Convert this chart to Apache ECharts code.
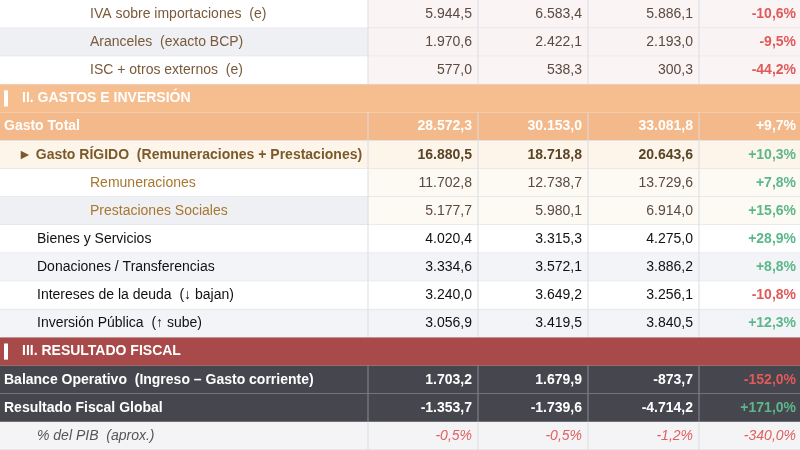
<!DOCTYPE html>
<html><head><meta charset="utf-8">
<script src="https://cdn.jsdelivr.net/npm/echarts@6/dist/echarts.min.js"></script>
<style>html,body{margin:0;padding:0;background:#fff}#c{width:800px;height:450px}</style>
</head><body><div id="c"></div>
<script>
var labels = ['IVA sobre importaciones  (e)','Aranceles  (exacto BCP)','ISC + otros externos  (e)','II. GASTOS E INVERSIÓN','Gasto Total',
  '► Gasto RÍGIDO  (Remuneraciones + Prestaciones)','Remuneraciones','Prestaciones Sociales','Bienes y Servicios','Donaciones / Transferencias',
  'Intereses de la deuda  (↓ bajan)','Inversión Pública  (↑ sube)','III. RESULTADO FISCAL','Balance Operativo  (Ingreso – Gasto corriente)',
  'Resultado Fiscal Global','% del PIB  (aprox.)'];
var kinds = ['sub','subAlt','sub','secII','total','rigid','rsub','rsubAlt','item','itemAlt','item','itemAlt','secIII','dark','dark','pct'];
var col1 = [5944.5,1970.6,577.0,null,28572.3,16880.5,11702.8,5177.7,4020.4,3334.6,3240.0,3056.9,null,1703.2,-1353.7,-0.5];
var col2 = [6583.4,2422.1,538.3,null,30153.0,18718.8,12738.7,5980.1,3315.3,3572.1,3649.2,3419.5,null,1679.9,-1739.6,-0.5];
var col3 = [5886.1,2193.0,300.3,null,33081.8,20643.6,13729.6,6914.0,4275.0,3886.2,3256.1,3840.5,null,-873.7,-4714.2,-1.2];
var change = [-10.6,-9.5,-44.2,null,9.7,10.3,7.8,15.6,28.9,8.8,-10.8,12.3,null,-152.0,171.0,-340.0];

var colEdges = [0,368,478,588,699,800];

function fmt(v){
  var neg = v < 0, s = Math.abs(v).toFixed(1).split('.');
  s[0] = s[0].replace(/\B(?=(\d{3})+(?!\d))/g,'.');
  return (neg?'-':'') + s[0] + ',' + s[1];
}
function fmtChg(v){ return (v>0?'+':'') + fmt(v) + '%'; }

var sty = {
  sub:{lbg:'#ffffff',nbg:'#fbf4f4',lc:'#7a5a3a',nc:'#5a4a40',ind:90,w:'normal'},
  subAlt:{lbg:'#eef0f4',nbg:'#faf3f3',lc:'#7a5a3a',nc:'#5a4a40',ind:90,w:'normal'},
  total:{lbg:'#f4b98a',nbg:'#f4b98a',lc:'#ffffff',nc:'#ffffff',ind:4,w:'bold',cc:'#ffffff'},
  rigid:{lbg:'#fdf5ea',nbg:'#fdf5ea',lc:'#7a5a2a',nc:'#5a4428',ind:18,w:'bold'},
  rsub:{lbg:'#ffffff',nbg:'#fdf9f3',lc:'#a8772f',nc:'#5a4a40',ind:90,w:'normal'},
  rsubAlt:{lbg:'#eef0f4',nbg:'#fdf9f3',lc:'#a8772f',nc:'#5a4a40',ind:90,w:'normal'},
  item:{lbg:'#ffffff',nbg:'#ffffff',lc:'#111111',nc:'#111111',ind:37,w:'normal'},
  itemAlt:{lbg:'#f3f4f7',nbg:'#f3f4f7',lc:'#111111',nc:'#111111',ind:37,w:'normal'},
  dark:{lbg:'#46464f',nbg:'#46464f',lc:'#ffffff',nc:'#ffffff',ind:4,w:'bold'},
  pct:{lbg:'#f4f4f6',nbg:'#f4f4f6',lc:'#555555',nc:'#e06060',ind:37,w:'normal',it:true,cc:'#e06060'}
};

var rows = labels.map(function(l,i){ return [0,i]; });

function renderItem(params, api){
  var i = params.dataIndex, k = kinds[i];
  var y0 = api.coord([0,i])[1], h = api.size([0,1])[1], top = y0 - h/2;
  var x = function(v){ return api.coord([v,i])[0]; };
  var ch = [], font = '"Liberation Sans", Arial, sans-serif';
  if (k === 'secII' || k === 'secIII') {
    var bg = k === 'secII' ? '#f6bd8f' : '#a84a4a';
    ch.push({type:'rect',shape:{x:x(0),y:top,width:x(800)-x(0),height:h},style:{fill:bg}});
    ch.push({type:'rect',shape:{x:x(4),y:top+6,width:4,height:h-12},style:{fill:'#ffffff'}});
    ch.push({type:'text',style:{x:x(22),y:y0,text:labels[i],fill:'#fff',font:'bold 14px '+font,verticalAlign:'middle'}});
    return {type:'group',children:ch};
  }
  var s = sty[k];
  ch.push({type:'rect',shape:{x:x(0),y:top,width:x(368),height:h},style:{fill:s.lbg}});
  ch.push({type:'rect',shape:{x:x(368),y:top,width:x(800)-x(368),height:h},style:{fill:s.nbg}});
  var lineC = k==='dark' ? '#8a8a92' : '#dadde3';
  ch.push({type:'line',shape:{x1:x(0),y1:top+h,x2:x(800),y2:top+h},style:{stroke:lineC,lineWidth:1}});
  for (var c=1;c<5;c++) ch.push({type:'line',shape:{x1:x(colEdges[c]),y1:top,x2:x(colEdges[c]),y2:top+h},style:{stroke:lineC,lineWidth:1}});
  ch.push({type:'text',style:{x:x(s.ind),y:y0,text:labels[i],fill:s.lc,
    font:(s.it?'italic ':'')+s.w+' 14px '+font,verticalAlign:'middle',width:x(366)-x(s.ind),overflow:'truncate',ellipsis:''}});
  var vals = [col1[i],col2[i],col3[i]];
  for (var j=0;j<3;j++) {
    ch.push({type:'text',style:{x:x(colEdges[j+2])-6,y:y0,text:k==='pct'?fmtChg(vals[j]):fmt(vals[j]),fill:s.nc,
      font:(s.it?'italic ':'')+s.w+' 14px '+font,align:'right',verticalAlign:'middle'}});
  }
  var cc = s.cc || (change[i] < 0 ? '#e05a5a' : '#5cb88a');
  ch.push({type:'text',style:{x:x(796),y:y0,text:fmtChg(change[i]),fill:cc,
    font:(s.it?'italic ':'')+(k==='pct'?'normal':'bold')+' 14px '+font,align:'right',verticalAlign:'middle'}});
  return {type:'group',children:ch};
}

var myChart = echarts.init(document.getElementById('c'));
var option = {
  animation:false,
  grid:{left:0,right:0,top:-1,height:451},
  xAxis:{type:'value',min:0,max:800,show:false},
  yAxis:{type:'category',inverse:true,data:labels,show:false},
  series:[{type:'custom',renderItem:renderItem,data:rows,clip:false}]
};
myChart.setOption(option);
</script></body></html>
